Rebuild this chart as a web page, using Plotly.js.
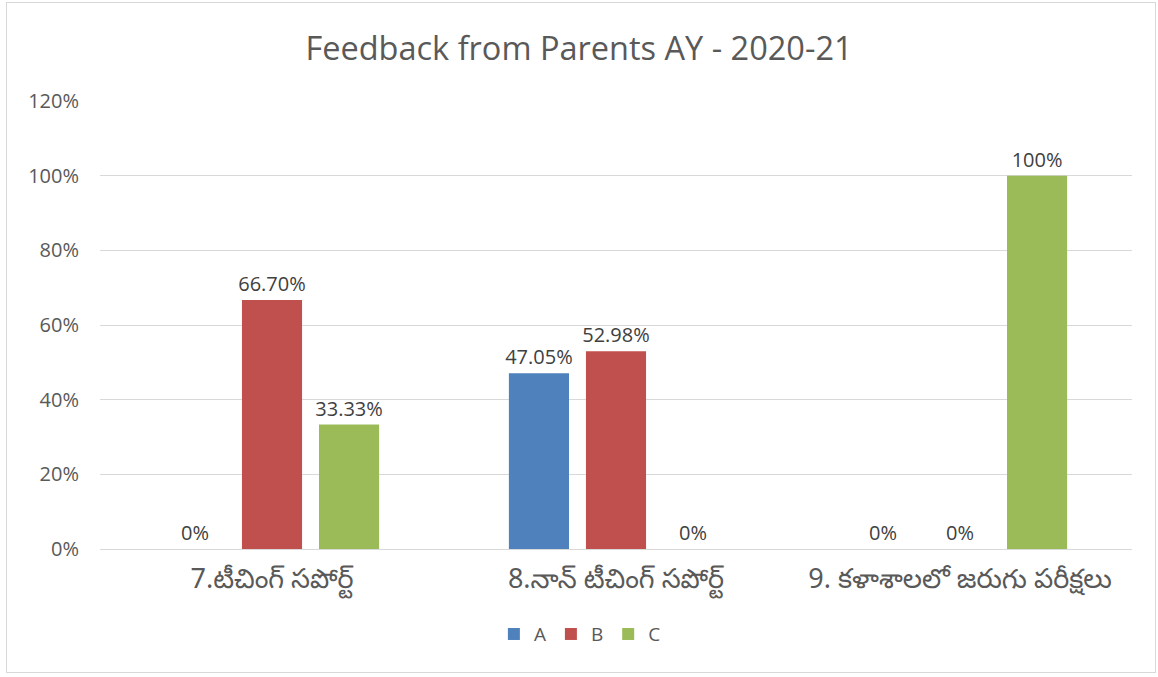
<!DOCTYPE html>
<html>
<head>
<meta charset="utf-8">
<script src="https://cdn.plot.ly/plotly-3.0.1.min.js"></script>
<style>
html,body{margin:0;padding:0;background:#fff;}
#wrap{position:relative;width:1158px;height:677px;}
#chart{width:1158px;height:677px;}
#frame{position:absolute;left:6px;top:2px;width:1150px;height:671px;border:1px solid #d9d9d9;pointer-events:none;box-sizing:border-box;}
</style>
</head>
<body>
<div id="wrap"><div id="chart"></div><div id="frame"></div></div>
<script>
var categories = ["7.టీచింగ్ సపోర్ట్", "8.నాన్ టీచింగ్ సపోర్ట్", "9. కళాశాలలో జరుగు పరీక్షలు"];
var seriesNames = ["A", "B", "C"];
var valuesA = [0, 0.4705, 0];
var valuesB = [0.667, 0.5298, 0];
var valuesC = [0.3333, 0, 1.0];
var labelsA = ["0%", "47.05%", "0%"];
var labelsB = ["66.70%", "52.98%", "0%"];
var labelsC = ["33.33%", "0%", "100%"];
var colors = ["#4F81BD", "#C0504D", "#9BBB59"];
var tickVals = [0, 0.2, 0.4, 0.6, 0.8, 1.0, 1.2];
var tickText = ["0%", "20%", "40%", "60%", "80%", "100%", "120%"];

var vals = [valuesA, valuesB, valuesC];
var labs = [labelsA, labelsB, labelsC];
var traces = seriesNames.map(function(n, i){
  return {
    type: "bar", name: n, x: categories, y: vals[i],
    text: labs[i], textposition: "outside", cliponaxis: false, constraintext: "none",
    textfont: {family: "Open Sans, sans-serif", size: 20, color: "#404040"},
    marker: {color: colors[i]}, hoverinfo: "none"
  };
});

var layout = {
  width: 1158, height: 677,
  margin: {l: 100, r: 26, t: 101, b: 128},
  paper_bgcolor: "#fff", plot_bgcolor: "#fff",
  barmode: "group", bargap: 0.328, bargroupgap: 0.22,
  title: {text: "Feedback from Parents AY - 2020-21", x: 0.5, xanchor: "center", y: 0.928, yanchor: "middle",
          font: {family: "Open Sans, sans-serif", size: 32.5, color: "#595959"}},
  xaxis: {showgrid: false, showline: true, linecolor: "#d9d9d9", linewidth: 1,
          ticks: "", ticklabelstandoff: 6,
          tickfont: {family: "Noto Sans, Noto Sans Telugu, sans-serif", size: 27, color: "#595959"}},
  yaxis: {range: [0, 1.2], tickvals: tickVals, ticktext: tickText, showgrid: true, gridcolor: "#d9d9d9",
          zeroline: false, showline: false, ticks: "", ticklen: 0, ticklabelstandoff: 20,
          tickfont: {family: "Open Sans, sans-serif", size: 20, color: "#595959"}},
  legend: {orientation: "h", x: 0.465, xanchor: "center", y: -0.19, yanchor: "middle",
           font: {family: "Open Sans, sans-serif", size: 19, color: "#595959"}, itemwidth: 30},
  showlegend: true
};
Plotly.newPlot("chart", traces, layout, {displayModeBar: false, staticPlot: true});
</script>
</body>
</html>
